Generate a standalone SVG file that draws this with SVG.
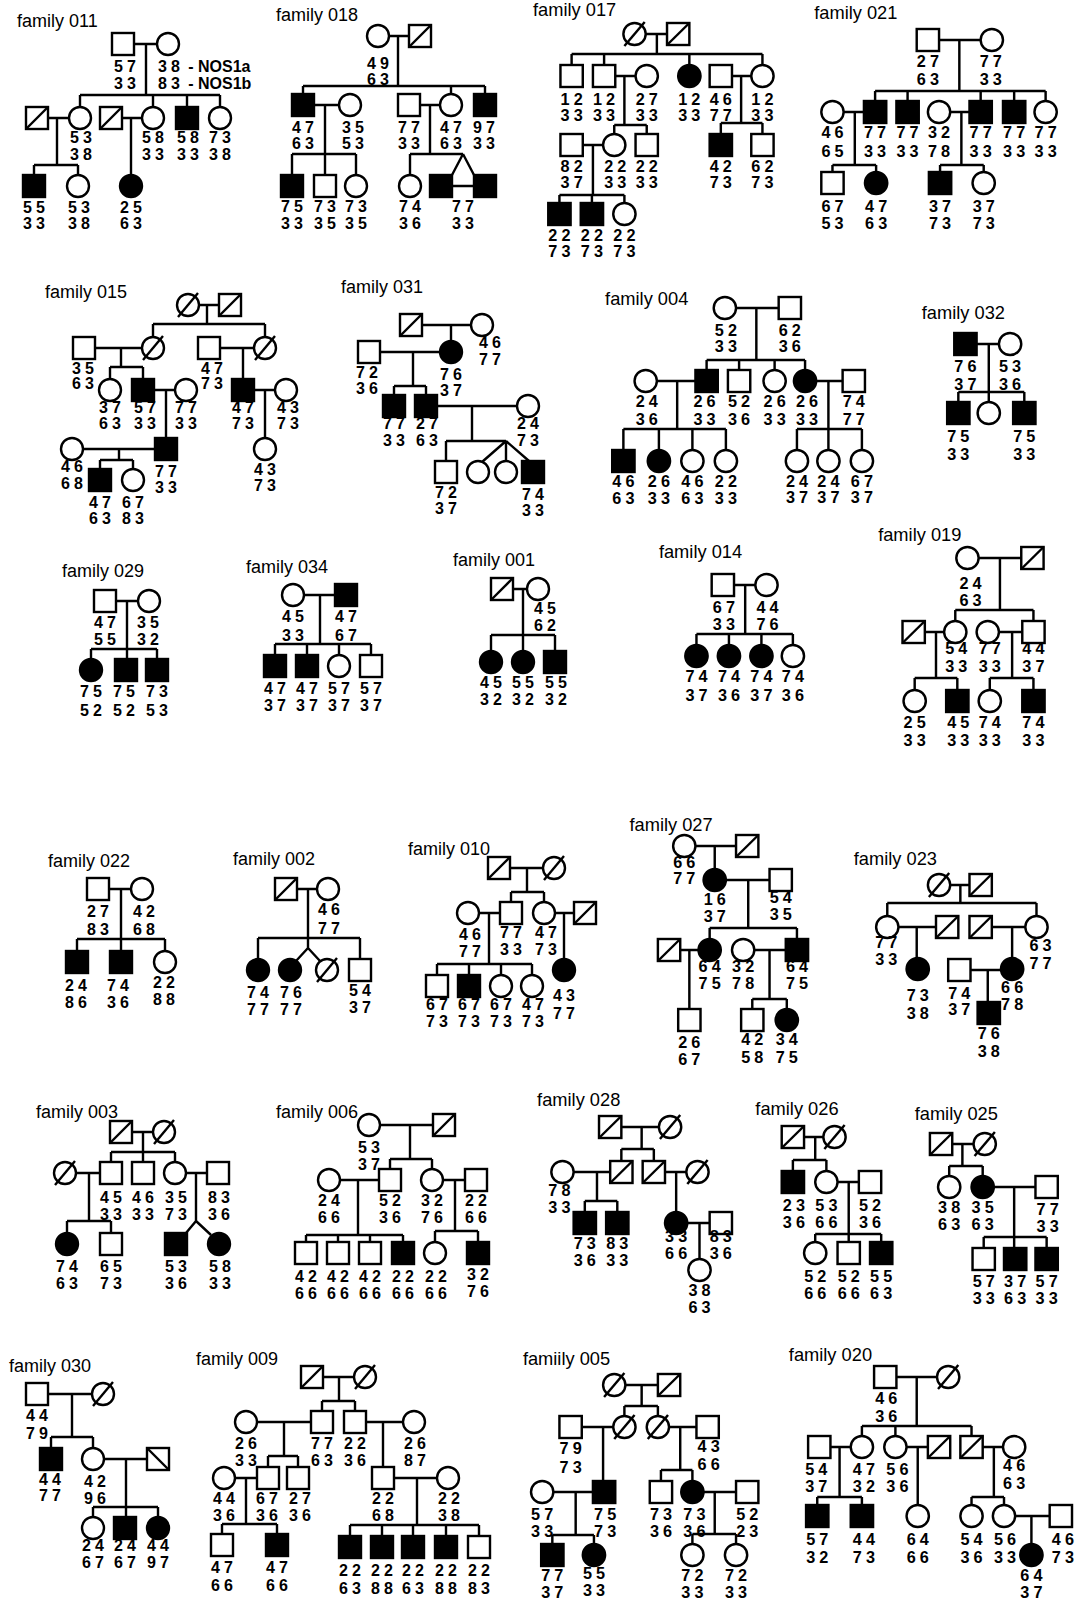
<svg xmlns="http://www.w3.org/2000/svg" width="1078" height="1604" viewBox="0 0 1078 1604">
<style>
.o{fill:#fff;stroke:#000;stroke-width:2.4}
.k{fill:#000;stroke:#000;stroke-width:2.4}
.s{fill:none;stroke:#000;stroke-width:2.4}
#connectors path{fill:none;stroke:#000;stroke-width:2.4}
.g{font-family:"Liberation Sans",Arial,Helvetica,sans-serif;font-weight:700;font-size:16px;letter-spacing:4px;text-anchor:middle;transform:translateX(2px)}
.n{font-family:"Liberation Sans",Arial,Helvetica,sans-serif;font-weight:700;font-size:16px;letter-spacing:4px}
.t{font-family:"Liberation Sans",Arial,Helvetica,sans-serif;font-size:18px}
</style>
<defs>
<rect id="m" x="-11" y="-11" width="22" height="22" class="o"/>
<rect id="M" x="-11" y="-11" width="22" height="22" class="k"/>
<circle id="f" r="11" class="o"/>
<circle id="F" r="11" class="k"/>
<g id="md"><rect x="-11" y="-11" width="22" height="22" class="o"/><path d="M-11 11L11-11" class="s"/></g>
<g id="md2"><rect x="-11" y="-11" width="22" height="22" class="o"/><path d="M-11-11L11 11" class="s"/></g>
<g id="fd"><circle r="11" class="o"/><path d="M-10 12L10-12" class="s"/></g>
</defs>
<rect width="1078" height="1604" fill="#fff"/>
<g id="connectors">
<path d="M134 44H157M146 44V95M80 95H220M80 95V107M153 95V107M187 95V107M220 95V107M48 118H69M57 118V165M34 165H78M34 165V175M78 165V175M122 118H142M131 118V175"/>
<path d="M389 36H409M398 36V86M303 86H485M303 86V94M451 86V94M485 86V94M314 105H339M325 105V154M292 154H356M292 154V175M325 154V175M356 154V175M420 105H440M430 105V154M410 154H463M410 154V175M463 154L452 175M463 154L474 175M452 186H474"/>
<path d="M199 305H219M207 305V324M153 324H265M153 324V337M265 324V337M95 348H142M121 348V367M110 367H143M110 367V379M143 367V379M220 348H254M243 348V379M154 390H175M166 390V438M254 390H275M265 390V438M83 449H155M119 449V460M100 460H133M100 460V469M133 460V469"/>
<path d="M422 325H471M451 325V341M380 352H440M413 352V386M394 386H426M394 386V395M426 386V395M437 406H517M472 406V441M446 441H506M446 441V461M506 441V461M506 441L482 462M506 441L529 461"/>
<path d="M116 601H138M127 601V659M91 649H157M91 649V659M157 649V659"/>
<path d="M304 595H335M320 595V644M275 644H371M275 644V655M307 644V655M339 644V655M371 644V655"/>
<path d="M513 589H527M523 589V651M491 635H555M491 635V651M555 635V651"/>
<path d="M109 889H131M121 889V951M77 939H165M77 939V951M165 939V951"/>
<path d="M297 889H317M308 889V948M258 938H360M258 938V959M360 938V959M308 948L296 961M308 948L320 961"/>
<path d="M510 868H543M527 868V892M511 892H544M511 892V902M544 892V902M479 913H500M489 913V964M437 964H532M437 964V975M469 964V975M501 964V975M532 964V975M555 913H574M564 913V959"/>
<path d="M132 1132H153M143 1132V1152M111 1152H175M111 1152V1162M143 1152V1162M175 1152V1162M76 1173H100M89 1173V1221M67 1221H111M67 1221V1233M111 1221V1233M186 1173H207M196 1173V1221L186 1233M196 1221L211 1235"/>
<path d="M380 1125H433M410 1125V1159M390 1159H432M390 1159V1169M432 1159V1169M340 1180H379M358 1180V1235M306 1235H403M306 1235V1242M338 1235V1242M370 1235V1242M403 1235V1242M443 1180H465M455 1180V1231M435 1231H478M435 1231V1242M478 1231V1242"/>
<path d="M48 1394H92M72 1394V1437M51 1437H93M51 1437V1448M93 1437V1448M104 1459H147M126 1459V1517M93 1507H158M93 1507V1517M158 1507V1517"/>
<path d="M323 1377H354M339 1377V1401M322 1401H355M322 1401V1411M355 1401V1411M257 1422H311M284 1422V1456M268 1456H298M268 1456V1467M298 1456V1467M366 1422H403M383 1422V1467M235 1478H257M246 1478V1524M222 1524H277M222 1524V1534M277 1524V1534M394 1478H437M417 1478V1525M350 1525H479M350 1525V1536M382 1525V1536M413 1525V1536M446 1525V1536M479 1525V1536"/>
<g transform="matrix(1.015 0 0 1 -7.95 0)">
<path d="M644 34H665M655 34V54M571 54H759M571 54V65M603 54V65M687 54V65M759 54V65M614 76H634M623 76V125M613 125H645M613 125V134M645 125V134M729 76H748M738 76V123M718 123H759M718 123V134M759 123V134M582 145H602M592 145V195M559 195H623M559 195V203M591 195V203M623 195V203"/>
<path d="M933 40H974M953 40V91M870 91H1038M870 91V101M902 91V101M974 91V101M1007 91V101M1038 91V101M839 112H859M850 112V165M828 165H871M828 165V172M871 165V172M944 112H963M955 112V165M934 165H977M934 165V172M977 165V172"/>
<path d="M733 308H775M753 308V360M704 360H801M704 360V370M736 360V370M771 360V370M801 360V370M655 381H693M675 381V429M622 429H723M622 429V450M657 429V450M690 429V450M723 429V450M812 381H838M824 381V450M793 429H857M793 429V450M857 429V450"/>
<path d="M970 344H992M982 344V402M952 392H1017M952 392V402M1017 392V402"/>
<path d="M731 585H752M742 585V634M694 634H789M694 634V645M726 634V645M758 634V645M789 634V645"/>
<path d="M972 558H1014M993 558V610M949 610H1026M949 610V621M1026 610V621M919 632H938M930 632V678M909 678H951M909 678V690M951 678V690M992 632H1015M1005 632V678M983 678H1026M983 678V690M1026 678V690"/>
<path d="M693 846H733M712 846V869M723 880H766M745 880V928M707 928H793M707 928V939M793 928V939M678 950H696M687 950V1009M751 950H782M766 950V999M749 999H783M749 999V1009M783 999V1009"/>
<path d="M944 885H963M954 885V903M882 903H1029M882 903V916M1029 903V916M893 927H930M911 927V958M985 927H1018M1005 927V958M964 970H994M981 970V1002"/>
<path d="M620 1127H657M640 1127V1149M620 1149H652M620 1149V1161M652 1149V1161M573 1172H609M596 1172V1201M584 1201H616M584 1201V1212M616 1201V1212M663 1172H684M674 1172V1212M685 1223H707M697 1223V1259"/>
<path d="M800 1137H819M811 1137V1160M789 1160H822M789 1160V1171M822 1160V1171M833 1182H854M844 1182V1242M811 1234H876M811 1234V1242M876 1234V1242"/>
<path d="M946 1144H967M956 1144V1166M943 1166H976M943 1166V1176M976 1166V1176M987 1187H1028M1007 1187V1248M977 1237H1039M977 1237V1248M1039 1237V1248"/>
<path d="M624 1385H656M640 1385V1406M623 1406H656M623 1406V1416M656 1406V1416M581 1427H612M602 1427V1481M667 1427H694M678 1427V1470M659 1470H690M659 1470V1481M690 1470V1481M553 1492H592M575 1492V1535M552 1535H593M552 1535V1544M593 1535V1544M701 1492H733M712 1492V1534M690 1534H733M690 1534V1544M733 1534V1544"/>
<path d="M891 1377H931M911 1377V1426M857 1426H965M857 1426V1436M890 1426V1436M965 1426V1436M826 1447H846M835 1447V1497M813 1497H857M813 1497V1505M857 1497V1505M901 1447H922M912 1447V1505M976 1447H996M987 1447V1497M965 1497H997M965 1497V1505M997 1497V1505M1008 1516H1042M1024 1516V1544"/>
</g>
</g>

<g id="family-011">
<text class="t" x="17" y="27">family 011</text>
<g id="p011-1"><use href="#m" x="123" y="44"/><text class="g" x="125" y="72">57<tspan x="125" y="89">33</tspan></text></g>
<g id="p011-2"><use href="#f" x="168" y="44"/><text class="n" x="158" y="72">38<tspan letter-spacing="0"> - NOS1a</tspan></text><text class="n" x="158" y="89">83<tspan letter-spacing="0"> - NOS1b</tspan></text></g>
<g id="p011-3"><use href="#md" x="37" y="118"/></g>
<g id="p011-4"><use href="#f" x="80" y="118"/><text class="g" x="81" y="143">53<tspan x="81" y="160">38</tspan></text></g>
<g id="p011-5"><use href="#md" x="111" y="118"/></g>
<g id="p011-6"><use href="#f" x="153" y="118"/><text class="g" x="153" y="143">58<tspan x="153" y="160">33</tspan></text></g>
<g id="p011-7"><use href="#M" x="187" y="118"/><text class="g" x="188" y="143">58<tspan x="188" y="160">33</tspan></text></g>
<g id="p011-8"><use href="#f" x="220" y="118"/><text class="g" x="220" y="143">73<tspan x="220" y="160">38</tspan></text></g>
<g id="p011-9"><use href="#M" x="34" y="186"/><text class="g" x="34" y="213">55<tspan x="34" y="229">33</tspan></text></g>
<g id="p011-10"><use href="#f" x="78" y="186"/><text class="g" x="79" y="213">53<tspan x="79" y="229">38</tspan></text></g>
<g id="p011-11"><use href="#F" x="131" y="186"/><text class="g" x="131" y="213">25<tspan x="131" y="229">63</tspan></text></g>
</g>

<g id="family-018">
<text class="t" x="276" y="21">family 018</text>
<g id="p018-1"><use href="#f" x="378" y="36"/><text class="g" x="378" y="69">49<tspan x="378" y="85">63</tspan></text></g>
<g id="p018-2"><use href="#md" x="420" y="36"/></g>
<g id="p018-3"><use href="#M" x="303" y="105"/><text class="g" x="303" y="133">47<tspan x="303" y="149">63</tspan></text></g>
<g id="p018-4"><use href="#f" x="350" y="105"/><text class="g" x="353" y="133">35<tspan x="353" y="149">53</tspan></text></g>
<g id="p018-5"><use href="#m" x="409" y="105"/><text class="g" x="409" y="133">77<tspan x="409" y="149">33</tspan></text></g>
<g id="p018-6"><use href="#f" x="451" y="105"/><text class="g" x="451" y="133">47<tspan x="451" y="149">63</tspan></text></g>
<g id="p018-7"><use href="#M" x="485" y="105"/><text class="g" x="484" y="133">97<tspan x="484" y="149">33</tspan></text></g>
<g id="p018-8"><use href="#M" x="292" y="186"/><text class="g" x="292" y="212">75<tspan x="292" y="229">33</tspan></text></g>
<g id="p018-9"><use href="#m" x="325" y="186"/><text class="g" x="325" y="212">73<tspan x="325" y="229">35</tspan></text></g>
<g id="p018-10"><use href="#f" x="356" y="186"/><text class="g" x="356" y="212">73<tspan x="356" y="229">35</tspan></text></g>
<g id="p018-11"><use href="#f" x="410" y="186"/><text class="g" x="410" y="212">74<tspan x="410" y="229">36</tspan></text></g>
<g id="p018-12"><use href="#M" x="441" y="186"/></g>
<g id="p018-13"><use href="#M" x="485" y="186"/><text class="g" x="463" y="212">77<tspan x="463" y="229">33</tspan></text></g>
</g>

<g id="family-015">
<text class="t" x="45" y="298">family 015</text>
<g id="p015-1"><use href="#fd" x="188" y="305"/></g>
<g id="p015-2"><use href="#md" x="230" y="305"/></g>
<g id="p015-3"><use href="#m" x="84" y="348"/><text class="g" x="83" y="374">35<tspan x="83" y="389">63</tspan></text></g>
<g id="p015-4"><use href="#fd" x="153" y="348"/></g>
<g id="p015-5"><use href="#m" x="209" y="348"/><text class="g" x="212" y="374">47<tspan x="212" y="389">73</tspan></text></g>
<g id="p015-6"><use href="#fd" x="265" y="348"/></g>
<g id="p015-7"><use href="#f" x="110" y="390"/><text class="g" x="110" y="413">37<tspan x="110" y="429">63</tspan></text></g>
<g id="p015-8"><use href="#M" x="143" y="390"/><text class="g" x="145" y="413">57<tspan x="145" y="429">33</tspan></text></g>
<g id="p015-9"><use href="#f" x="186" y="390"/><text class="g" x="186" y="413">77<tspan x="186" y="429">33</tspan></text></g>
<g id="p015-10"><use href="#M" x="243" y="390"/><text class="g" x="243" y="413">47<tspan x="243" y="429">73</tspan></text></g>
<g id="p015-11"><use href="#f" x="286" y="390"/><text class="g" x="288" y="413">43<tspan x="288" y="429">73</tspan></text></g>
<g id="p015-12"><use href="#f" x="72" y="449"/><text class="g" x="72" y="472">46<tspan x="72" y="489">68</tspan></text></g>
<g id="p015-13"><use href="#M" x="166" y="449"/><text class="g" x="166" y="477">77<tspan x="166" y="493">33</tspan></text></g>
<g id="p015-14"><use href="#f" x="265" y="449"/><text class="g" x="265" y="475">43<tspan x="265" y="491">73</tspan></text></g>
<g id="p015-15"><use href="#M" x="100" y="480"/><text class="g" x="100" y="508">47<tspan x="100" y="524">63</tspan></text></g>
<g id="p015-16"><use href="#f" x="133" y="480"/><text class="g" x="133" y="508">67<tspan x="133" y="524">83</tspan></text></g>
</g>

<g id="family-031">
<text class="t" x="341" y="293">family 031</text>
<g id="p031-1"><use href="#md" x="411" y="325"/></g>
<g id="p031-2"><use href="#f" x="482" y="325"/><text class="g" x="490" y="348">46<tspan x="490" y="365">77</tspan></text></g>
<g id="p031-3"><use href="#F" x="451" y="352"/><text class="g" x="451" y="380">76<tspan x="451" y="396">37</tspan></text></g>
<g id="p031-4"><use href="#m" x="369" y="352"/><text class="g" x="367" y="378">72<tspan x="367" y="394">36</tspan></text></g>
<g id="p031-5"><use href="#M" x="394" y="406"/><text class="g" x="394" y="429">77<tspan x="394" y="446">33</tspan></text></g>
<g id="p031-6"><use href="#M" x="426" y="406"/><text class="g" x="427" y="429">27<tspan x="427" y="446">63</tspan></text></g>
<g id="p031-7"><use href="#f" x="528" y="406"/><text class="g" x="528" y="429">24<tspan x="528" y="446">73</tspan></text></g>
<g id="p031-8"><use href="#m" x="446" y="472"/><text class="g" x="446" y="498">72<tspan x="446" y="514">37</tspan></text></g>
<g id="p031-9"><use href="#f" x="478" y="472"/></g>
<g id="p031-10"><use href="#f" x="506" y="472"/></g>
<g id="p031-11"><use href="#M" x="533" y="472"/><text class="g" x="533" y="500">74<tspan x="533" y="516">33</tspan></text></g>
</g>

<g id="family-029">
<text class="t" x="62" y="577">family 029</text>
<g id="p029-1"><use href="#m" x="105" y="601"/><text class="g" x="105" y="628">47<tspan x="105" y="645">55</tspan></text></g>
<g id="p029-2"><use href="#f" x="149" y="601"/><text class="g" x="148" y="628">35<tspan x="148" y="645">32</tspan></text></g>
<g id="p029-3"><use href="#F" x="91" y="670"/><text class="g" x="91" y="697">75<tspan x="91" y="716">52</tspan></text></g>
<g id="p029-4"><use href="#M" x="126" y="670"/><text class="g" x="124" y="697">75<tspan x="124" y="716">52</tspan></text></g>
<g id="p029-5"><use href="#M" x="157" y="670"/><text class="g" x="157" y="697">73<tspan x="157" y="716">53</tspan></text></g>
</g>

<g id="family-034">
<text class="t" x="246" y="573">family 034</text>
<g id="p034-1"><use href="#f" x="293" y="595"/><text class="g" x="293" y="622">45<tspan x="293" y="641">33</tspan></text></g>
<g id="p034-2"><use href="#M" x="346" y="595"/><text class="g" x="346" y="622">47<tspan x="346" y="641">67</tspan></text></g>
<g id="p034-3"><use href="#M" x="275" y="666"/><text class="g" x="275" y="694">47<tspan x="275" y="711">37</tspan></text></g>
<g id="p034-4"><use href="#M" x="307" y="666"/><text class="g" x="307" y="694">47<tspan x="307" y="711">37</tspan></text></g>
<g id="p034-5"><use href="#f" x="339" y="666"/><text class="g" x="339" y="694">57<tspan x="339" y="711">37</tspan></text></g>
<g id="p034-6"><use href="#m" x="371" y="666"/><text class="g" x="371" y="694">57<tspan x="371" y="711">37</tspan></text></g>
</g>

<g id="family-001">
<text class="t" x="453" y="566">family 001</text>
<g id="p001-1"><use href="#md" x="502" y="589"/></g>
<g id="p001-2"><use href="#f" x="538" y="589"/><text class="g" x="545" y="614">45<tspan x="545" y="631">62</tspan></text></g>
<g id="p001-3"><use href="#F" x="491" y="662"/><text class="g" x="491" y="688">45<tspan x="491" y="705">32</tspan></text></g>
<g id="p001-4"><use href="#F" x="523" y="662"/><text class="g" x="523" y="688">55<tspan x="523" y="705">32</tspan></text></g>
<g id="p001-5"><use href="#M" x="555" y="662"/><text class="g" x="556" y="688">55<tspan x="556" y="705">32</tspan></text></g>
</g>

<g id="family-022">
<text class="t" x="48" y="867">family 022</text>
<g id="p022-1"><use href="#m" x="98" y="889"/><text class="g" x="98" y="917">27<tspan x="98" y="935">83</tspan></text></g>
<g id="p022-2"><use href="#f" x="142" y="889"/><text class="g" x="144" y="917">42<tspan x="144" y="935">68</tspan></text></g>
<g id="p022-3"><use href="#M" x="77" y="962"/><text class="g" x="76" y="991">24<tspan x="76" y="1008">86</tspan></text></g>
<g id="p022-4"><use href="#M" x="121" y="962"/><text class="g" x="118" y="991">74<tspan x="118" y="1008">36</tspan></text></g>
<g id="p022-5"><use href="#f" x="165" y="962"/><text class="g" x="164" y="988">22<tspan x="164" y="1005">88</tspan></text></g>
</g>

<g id="family-002">
<text class="t" x="233" y="865">family 002</text>
<g id="p002-1"><use href="#md" x="286" y="889"/></g>
<g id="p002-2"><use href="#f" x="328" y="889"/><text class="g" x="329" y="915">46<tspan x="329" y="934">77</tspan></text></g>
<g id="p002-3"><use href="#F" x="258" y="970"/><text class="g" x="258" y="998">74<tspan x="258" y="1015">77</tspan></text></g>
<g id="p002-4"><use href="#F" x="290" y="970"/><text class="g" x="291" y="998">76<tspan x="291" y="1015">77</tspan></text></g>
<g id="p002-5"><use href="#fd" x="327" y="970"/></g>
<g id="p002-6"><use href="#m" x="360" y="970"/><text class="g" x="360" y="996">54<tspan x="360" y="1013">37</tspan></text></g>
</g>

<g id="family-010">
<text class="t" x="408" y="855">family 010</text>
<g id="p010-1"><use href="#md" x="499" y="868"/></g>
<g id="p010-2"><use href="#fd" x="554" y="868"/></g>
<g id="p010-3"><use href="#f" x="468" y="913"/><text class="g" x="470" y="940">46<tspan x="470" y="957">77</tspan></text></g>
<g id="p010-4"><use href="#m" x="511" y="913"/><text class="g" x="511" y="938">77<tspan x="511" y="955">33</tspan></text></g>
<g id="p010-5"><use href="#f" x="544" y="913"/><text class="g" x="546" y="938">47<tspan x="546" y="955">73</tspan></text></g>
<g id="p010-6"><use href="#md" x="585" y="913"/></g>
<g id="p010-7"><use href="#m" x="437" y="986"/><text class="g" x="437" y="1010">67<tspan x="437" y="1027">73</tspan></text></g>
<g id="p010-8"><use href="#M" x="469" y="986"/><text class="g" x="469" y="1010">67<tspan x="469" y="1027">73</tspan></text></g>
<g id="p010-9"><use href="#f" x="501" y="986"/><text class="g" x="501" y="1010">67<tspan x="501" y="1027">73</tspan></text></g>
<g id="p010-10"><use href="#f" x="532" y="986"/><text class="g" x="533" y="1010">47<tspan x="533" y="1027">73</tspan></text></g>
<g id="p010-11"><use href="#F" x="564" y="970"/><text class="g" x="564" y="1001">43<tspan x="564" y="1019">77</tspan></text></g>
</g>

<g id="family-003">
<text class="t" x="36" y="1118">family 003</text>
<g id="p003-1"><use href="#md" x="121" y="1132"/></g>
<g id="p003-2"><use href="#fd" x="164" y="1132"/></g>
<g id="p003-3"><use href="#fd" x="65" y="1173"/></g>
<g id="p003-4"><use href="#m" x="111" y="1173"/><text class="g" x="111" y="1203">45<tspan x="111" y="1220">33</tspan></text></g>
<g id="p003-5"><use href="#m" x="143" y="1173"/><text class="g" x="143" y="1203">46<tspan x="143" y="1220">33</tspan></text></g>
<g id="p003-6"><use href="#f" x="175" y="1173"/><text class="g" x="176" y="1203">35<tspan x="176" y="1220">73</tspan></text></g>
<g id="p003-7"><use href="#m" x="218" y="1173"/><text class="g" x="219" y="1203">83<tspan x="219" y="1220">36</tspan></text></g>
<g id="p003-8"><use href="#F" x="67" y="1244"/><text class="g" x="67" y="1272">74<tspan x="67" y="1289">63</tspan></text></g>
<g id="p003-9"><use href="#m" x="111" y="1244"/><text class="g" x="111" y="1272">65<tspan x="111" y="1289">73</tspan></text></g>
<g id="p003-10"><use href="#M" x="176" y="1244"/><text class="g" x="176" y="1272">53<tspan x="176" y="1289">36</tspan></text></g>
<g id="p003-11"><use href="#F" x="219" y="1244"/><text class="g" x="220" y="1272">58<tspan x="220" y="1289">33</tspan></text></g>
</g>

<g id="family-006">
<text class="t" x="276" y="1118">family 006</text>
<g id="p006-1"><use href="#f" x="369" y="1125"/><text class="g" x="369" y="1153">53<tspan x="369" y="1170">37</tspan></text></g>
<g id="p006-2"><use href="#md" x="444" y="1125"/></g>
<g id="p006-3"><use href="#f" x="329" y="1180"/><text class="g" x="329" y="1206">24<tspan x="329" y="1223">66</tspan></text></g>
<g id="p006-4"><use href="#m" x="390" y="1180"/><text class="g" x="390" y="1206">52<tspan x="390" y="1223">36</tspan></text></g>
<g id="p006-5"><use href="#f" x="432" y="1180"/><text class="g" x="432" y="1206">32<tspan x="432" y="1223">76</tspan></text></g>
<g id="p006-6"><use href="#m" x="476" y="1180"/><text class="g" x="476" y="1206">22<tspan x="476" y="1223">66</tspan></text></g>
<g id="p006-7"><use href="#m" x="306" y="1253"/><text class="g" x="306" y="1282">42<tspan x="306" y="1299">66</tspan></text></g>
<g id="p006-8"><use href="#m" x="338" y="1253"/><text class="g" x="338" y="1282">42<tspan x="338" y="1299">66</tspan></text></g>
<g id="p006-9"><use href="#m" x="370" y="1253"/><text class="g" x="370" y="1282">42<tspan x="370" y="1299">66</tspan></text></g>
<g id="p006-10"><use href="#M" x="403" y="1253"/><text class="g" x="403" y="1282">22<tspan x="403" y="1299">66</tspan></text></g>
<g id="p006-11"><use href="#f" x="435" y="1253"/><text class="g" x="436" y="1282">22<tspan x="436" y="1299">66</tspan></text></g>
<g id="p006-12"><use href="#M" x="478" y="1253"/><text class="g" x="478" y="1280">32<tspan x="478" y="1297">76</tspan></text></g>
</g>

<g id="family-030">
<text class="t" x="9" y="1372">family 030</text>
<g id="p030-1"><use href="#m" x="37" y="1394"/><text class="g" x="37" y="1421">44<tspan x="37" y="1439">79</tspan></text></g>
<g id="p030-2"><use href="#fd" x="103" y="1394"/></g>
<g id="p030-3"><use href="#M" x="51" y="1459"/><text class="g" x="50" y="1485">44<tspan x="50" y="1501">77</tspan></text></g>
<g id="p030-4"><use href="#f" x="93" y="1459"/><text class="g" x="95" y="1487">42<tspan x="95" y="1504">96</tspan></text></g>
<g id="p030-5"><use href="#md2" x="158" y="1459"/></g>
<g id="p030-6"><use href="#f" x="93" y="1528"/><text class="g" x="93" y="1551">24<tspan x="93" y="1568">67</tspan></text></g>
<g id="p030-7"><use href="#M" x="125" y="1528"/><text class="g" x="125" y="1551">24<tspan x="125" y="1568">67</tspan></text></g>
<g id="p030-8"><use href="#F" x="158" y="1528"/><text class="g" x="158" y="1551">44<tspan x="158" y="1568">97</tspan></text></g>
</g>

<g id="family-009">
<text class="t" x="196" y="1365">family 009</text>
<g id="p009-1"><use href="#md" x="312" y="1377"/></g>
<g id="p009-2"><use href="#fd" x="365" y="1377"/></g>
<g id="p009-3"><use href="#f" x="246" y="1422"/><text class="g" x="246" y="1449">26<tspan x="246" y="1466">33</tspan></text></g>
<g id="p009-4"><use href="#m" x="322" y="1422"/><text class="g" x="322" y="1449">77<tspan x="322" y="1466">63</tspan></text></g>
<g id="p009-5"><use href="#m" x="355" y="1422"/><text class="g" x="355" y="1449">22<tspan x="355" y="1466">36</tspan></text></g>
<g id="p009-6"><use href="#f" x="414" y="1422"/><text class="g" x="415" y="1449">26<tspan x="415" y="1466">87</tspan></text></g>
<g id="p009-7"><use href="#f" x="224" y="1478"/><text class="g" x="224" y="1504">44<tspan x="224" y="1521">36</tspan></text></g>
<g id="p009-8"><use href="#m" x="268" y="1478"/><text class="g" x="267" y="1504">67<tspan x="267" y="1521">36</tspan></text></g>
<g id="p009-9"><use href="#m" x="298" y="1478"/><text class="g" x="300" y="1504">27<tspan x="300" y="1521">36</tspan></text></g>
<g id="p009-10"><use href="#m" x="383" y="1478"/><text class="g" x="383" y="1504">22<tspan x="383" y="1521">68</tspan></text></g>
<g id="p009-11"><use href="#f" x="448" y="1478"/><text class="g" x="449" y="1504">22<tspan x="449" y="1521">38</tspan></text></g>
<g id="p009-12"><use href="#m" x="222" y="1545"/><text class="g" x="222" y="1573">47<tspan x="222" y="1591">66</tspan></text></g>
<g id="p009-13"><use href="#M" x="277" y="1545"/><text class="g" x="277" y="1573">47<tspan x="277" y="1591">66</tspan></text></g>
<g id="p009-14"><use href="#M" x="350" y="1547"/><text class="g" x="350" y="1576">22<tspan x="350" y="1594">63</tspan></text></g>
<g id="p009-15"><use href="#M" x="382" y="1547"/><text class="g" x="382" y="1576">22<tspan x="382" y="1594">88</tspan></text></g>
<g id="p009-16"><use href="#M" x="413" y="1547"/><text class="g" x="413" y="1576">22<tspan x="413" y="1594">63</tspan></text></g>
<g id="p009-17"><use href="#M" x="446" y="1547"/><text class="g" x="446" y="1576">22<tspan x="446" y="1594">88</tspan></text></g>
<g id="p009-18"><use href="#m" x="479" y="1547"/><text class="g" x="479" y="1576">22<tspan x="479" y="1594">83</tspan></text></g>
</g>

<g transform="matrix(1.015 0 0 1 -7.95 0)">
<g id="family-017">
<text class="t" x="533" y="16">family 017</text>
<g id="p017-1"><use href="#fd" x="633" y="34"/></g>
<g id="p017-2"><use href="#md" x="676" y="34"/></g>
<g id="p017-3"><use href="#m" x="571" y="76"/><text class="g" x="571" y="105">12<tspan x="571" y="121">33</tspan></text></g>
<g id="p017-4"><use href="#m" x="603" y="76"/><text class="g" x="603" y="105">12<tspan x="603" y="121">33</tspan></text></g>
<g id="p017-5"><use href="#f" x="645" y="76"/><text class="g" x="645" y="105">27<tspan x="645" y="121">33</tspan></text></g>
<g id="p017-6"><use href="#F" x="687" y="76"/><text class="g" x="687" y="105">12<tspan x="687" y="121">33</tspan></text></g>
<g id="p017-7"><use href="#m" x="718" y="76"/><text class="g" x="718" y="105">46<tspan x="718" y="121">77</tspan></text></g>
<g id="p017-8"><use href="#f" x="759" y="76"/><text class="g" x="759" y="105">12<tspan x="759" y="121">33</tspan></text></g>
<g id="p017-9"><use href="#m" x="571" y="145"/><text class="g" x="571" y="172">82<tspan x="571" y="188">37</tspan></text></g>
<g id="p017-10"><use href="#f" x="613" y="145"/><text class="g" x="614" y="172">22<tspan x="614" y="188">33</tspan></text></g>
<g id="p017-11"><use href="#m" x="645" y="145"/><text class="g" x="645" y="172">22<tspan x="645" y="188">33</tspan></text></g>
<g id="p017-12"><use href="#M" x="718" y="145"/><text class="g" x="718" y="172">42<tspan x="718" y="188">73</tspan></text></g>
<g id="p017-13"><use href="#m" x="759" y="145"/><text class="g" x="759" y="172">62<tspan x="759" y="188">73</tspan></text></g>
<g id="p017-14"><use href="#M" x="559" y="214"/><text class="g" x="559" y="241">22<tspan x="559" y="257">73</tspan></text></g>
<g id="p017-15"><use href="#M" x="591" y="214"/><text class="g" x="591" y="241">22<tspan x="591" y="257">73</tspan></text></g>
<g id="p017-16"><use href="#f" x="623" y="214"/><text class="g" x="623" y="241">22<tspan x="623" y="257">73</tspan></text></g>
</g>

<g id="family-021">
<text class="t" x="810" y="19">family 021</text>
<g id="p021-1"><use href="#m" x="922" y="40"/><text class="g" x="922" y="67">27<tspan x="922" y="85">63</tspan></text></g>
<g id="p021-2"><use href="#f" x="985" y="40"/><text class="g" x="984" y="67">77<tspan x="984" y="85">33</tspan></text></g>
<g id="p021-3"><use href="#f" x="828" y="112"/><text class="g" x="828" y="138">46<tspan x="828" y="157">65</tspan></text></g>
<g id="p021-4"><use href="#M" x="870" y="112"/><text class="g" x="870" y="138">77<tspan x="870" y="157">33</tspan></text></g>
<g id="p021-5"><use href="#M" x="902" y="112"/><text class="g" x="902" y="138">77<tspan x="902" y="157">33</tspan></text></g>
<g id="p021-6"><use href="#f" x="933" y="112"/><text class="g" x="933" y="138">32<tspan x="933" y="157">78</tspan></text></g>
<g id="p021-7"><use href="#M" x="974" y="112"/><text class="g" x="974" y="138">77<tspan x="974" y="157">33</tspan></text></g>
<g id="p021-8"><use href="#M" x="1007" y="112"/><text class="g" x="1007" y="138">77<tspan x="1007" y="157">33</tspan></text></g>
<g id="p021-9"><use href="#f" x="1038" y="112"/><text class="g" x="1038" y="138">77<tspan x="1038" y="157">33</tspan></text></g>
<g id="p021-10"><use href="#m" x="828" y="183"/><text class="g" x="828" y="212">67<tspan x="828" y="229">53</tspan></text></g>
<g id="p021-11"><use href="#F" x="871" y="183"/><text class="g" x="871" y="212">47<tspan x="871" y="229">63</tspan></text></g>
<g id="p021-12"><use href="#M" x="934" y="183"/><text class="g" x="934" y="212">37<tspan x="934" y="229">73</tspan></text></g>
<g id="p021-13"><use href="#f" x="977" y="183"/><text class="g" x="977" y="212">37<tspan x="977" y="229">73</tspan></text></g>
</g>

<g id="family-004">
<text class="t" x="604" y="305">family 004</text>
<g id="p004-1"><use href="#f" x="722" y="308"/><text class="g" x="723" y="336">52<tspan x="723" y="352">33</tspan></text></g>
<g id="p004-2"><use href="#m" x="786" y="308"/><text class="g" x="786" y="336">62<tspan x="786" y="352">36</tspan></text></g>
<g id="p004-3"><use href="#f" x="644" y="381"/><text class="g" x="645" y="407">24<tspan x="645" y="425">36</tspan></text></g>
<g id="p004-4"><use href="#M" x="704" y="381"/><text class="g" x="702" y="407">26<tspan x="702" y="425">33</tspan></text></g>
<g id="p004-5"><use href="#m" x="736" y="381"/><text class="g" x="736" y="407">52<tspan x="736" y="425">36</tspan></text></g>
<g id="p004-6"><use href="#f" x="771" y="381"/><text class="g" x="771" y="407">26<tspan x="771" y="425">33</tspan></text></g>
<g id="p004-7"><use href="#F" x="801" y="381"/><text class="g" x="803" y="407">26<tspan x="803" y="425">33</tspan></text></g>
<g id="p004-8"><use href="#m" x="849" y="381"/><text class="g" x="849" y="407">74<tspan x="849" y="425">77</tspan></text></g>
<g id="p004-9"><use href="#M" x="622" y="461"/><text class="g" x="622" y="487">46<tspan x="622" y="504">63</tspan></text></g>
<g id="p004-10"><use href="#F" x="657" y="461"/><text class="g" x="657" y="487">26<tspan x="657" y="504">33</tspan></text></g>
<g id="p004-11"><use href="#f" x="690" y="461"/><text class="g" x="690" y="487">46<tspan x="690" y="504">63</tspan></text></g>
<g id="p004-12"><use href="#f" x="723" y="461"/><text class="g" x="723" y="487">22<tspan x="723" y="504">33</tspan></text></g>
<g id="p004-13"><use href="#f" x="793" y="461"/><text class="g" x="793" y="487">24<tspan x="793" y="503">37</tspan></text></g>
<g id="p004-14"><use href="#f" x="824" y="461"/><text class="g" x="824" y="487">24<tspan x="824" y="503">37</tspan></text></g>
<g id="p004-15"><use href="#f" x="857" y="461"/><text class="g" x="857" y="487">67<tspan x="857" y="503">37</tspan></text></g>
</g>

<g id="family-032">
<text class="t" x="916" y="319">family 032</text>
<g id="p032-1"><use href="#M" x="959" y="344"/><text class="g" x="959" y="372">76<tspan x="959" y="390">37</tspan></text></g>
<g id="p032-2"><use href="#f" x="1003" y="344"/><text class="g" x="1003" y="372">53<tspan x="1003" y="390">36</tspan></text></g>
<g id="p032-3"><use href="#M" x="952" y="413"/><text class="g" x="952" y="442">75<tspan x="952" y="460">33</tspan></text></g>
<g id="p032-4"><use href="#f" x="982" y="413"/></g>
<g id="p032-5"><use href="#M" x="1017" y="413"/><text class="g" x="1017" y="442">75<tspan x="1017" y="460">33</tspan></text></g>
</g>

<g id="family-014">
<text class="t" x="657" y="558">family 014</text>
<g id="p014-1"><use href="#m" x="720" y="585"/><text class="g" x="721" y="613">67<tspan x="721" y="630">33</tspan></text></g>
<g id="p014-2"><use href="#f" x="763" y="585"/><text class="g" x="764" y="613">44<tspan x="764" y="630">76</tspan></text></g>
<g id="p014-3"><use href="#F" x="694" y="656"/><text class="g" x="694" y="682">74<tspan x="694" y="701">37</tspan></text></g>
<g id="p014-4"><use href="#F" x="726" y="656"/><text class="g" x="726" y="682">74<tspan x="726" y="701">36</tspan></text></g>
<g id="p014-5"><use href="#F" x="758" y="656"/><text class="g" x="758" y="682">74<tspan x="758" y="701">37</tspan></text></g>
<g id="p014-6"><use href="#f" x="789" y="656"/><text class="g" x="789" y="682">74<tspan x="789" y="701">36</tspan></text></g>
</g>

<g id="family-019">
<text class="t" x="873" y="541">family 019</text>
<g id="p019-1"><use href="#f" x="961" y="558"/><text class="g" x="964" y="589">24<tspan x="964" y="606">63</tspan></text></g>
<g id="p019-2"><use href="#md" x="1025" y="558"/></g>
<g id="p019-3"><use href="#md" x="908" y="632"/></g>
<g id="p019-4"><use href="#f" x="949" y="632"/><text class="g" x="950" y="654">54<tspan x="950" y="672">33</tspan></text></g>
<g id="p019-5"><use href="#f" x="981" y="632"/><text class="g" x="983" y="654">77<tspan x="983" y="672">33</tspan></text></g>
<g id="p019-6"><use href="#m" x="1026" y="632"/><text class="g" x="1026" y="654">44<tspan x="1026" y="672">37</tspan></text></g>
<g id="p019-7"><use href="#f" x="909" y="701"/><text class="g" x="909" y="728">25<tspan x="909" y="746">33</tspan></text></g>
<g id="p019-8"><use href="#M" x="951" y="701"/><text class="g" x="952" y="728">45<tspan x="952" y="746">33</tspan></text></g>
<g id="p019-9"><use href="#f" x="983" y="701"/><text class="g" x="983" y="728">74<tspan x="983" y="746">33</tspan></text></g>
<g id="p019-10"><use href="#M" x="1026" y="701"/><text class="g" x="1026" y="728">74<tspan x="1026" y="746">33</tspan></text></g>
</g>

<g id="family-027">
<text class="t" x="628" y="831">family 027</text>
<g id="p027-1"><use href="#f" x="682" y="846"/><text class="g" x="682" y="868">66<tspan x="682" y="884">77</tspan></text></g>
<g id="p027-2"><use href="#md" x="744" y="846"/></g>
<g id="p027-3"><use href="#F" x="712" y="880"/><text class="g" x="712" y="905">16<tspan x="712" y="922">37</tspan></text></g>
<g id="p027-4"><use href="#m" x="777" y="880"/><text class="g" x="777" y="903">54<tspan x="777" y="920">35</tspan></text></g>
<g id="p027-5"><use href="#md" x="667" y="950"/></g>
<g id="p027-6"><use href="#F" x="707" y="950"/><text class="g" x="707" y="972">64<tspan x="707" y="989">75</tspan></text></g>
<g id="p027-7"><use href="#f" x="740" y="950"/><text class="g" x="740" y="972">32<tspan x="740" y="989">78</tspan></text></g>
<g id="p027-8"><use href="#M" x="793" y="950"/><text class="g" x="793" y="972">64<tspan x="793" y="989">75</tspan></text></g>
<g id="p027-9"><use href="#m" x="687" y="1020"/><text class="g" x="687" y="1048">26<tspan x="687" y="1065">67</tspan></text></g>
<g id="p027-10"><use href="#m" x="749" y="1020"/><text class="g" x="749" y="1045">42<tspan x="749" y="1063">58</tspan></text></g>
<g id="p027-11"><use href="#F" x="783" y="1020"/><text class="g" x="783" y="1045">34<tspan x="783" y="1063">75</tspan></text></g>
</g>

<g id="family-023">
<text class="t" x="849" y="865">family 023</text>
<g id="p023-1"><use href="#fd" x="933" y="885"/></g>
<g id="p023-2"><use href="#md" x="974" y="885"/></g>
<g id="p023-3"><use href="#f" x="882" y="927"/><text class="g" x="881" y="948">77<tspan x="881" y="965">33</tspan></text></g>
<g id="p023-4"><use href="#md" x="941" y="927"/></g>
<g id="p023-5"><use href="#md" x="974" y="927"/></g>
<g id="p023-6"><use href="#f" x="1029" y="927"/><text class="g" x="1033" y="951">63<tspan x="1033" y="969">77</tspan></text></g>
<g id="p023-7"><use href="#F" x="912" y="969"/><text class="g" x="912" y="1001">73<tspan x="912" y="1019">38</tspan></text></g>
<g id="p023-8"><use href="#m" x="953" y="970"/><text class="g" x="953" y="999">74<tspan x="953" y="1015">37</tspan></text></g>
<g id="p023-9"><use href="#F" x="1005" y="969"/><text class="g" x="1005" y="993">66<tspan x="1005" y="1010">78</tspan></text></g>
<g id="p023-10"><use href="#M" x="982" y="1013"/><text class="g" x="982" y="1039">76<tspan x="982" y="1057">38</tspan></text></g>
</g>

<g id="family-028">
<text class="t" x="537" y="1106">family 028</text>
<g id="p028-1"><use href="#md" x="609" y="1127"/></g>
<g id="p028-2"><use href="#fd" x="668" y="1127"/></g>
<g id="p028-3"><use href="#f" x="562" y="1172"/><text class="g" x="559" y="1196">78<tspan x="559" y="1213">33</tspan></text></g>
<g id="p028-4"><use href="#md" x="620" y="1172"/></g>
<g id="p028-5"><use href="#md" x="652" y="1172"/></g>
<g id="p028-6"><use href="#fd" x="695" y="1172"/></g>
<g id="p028-7"><use href="#M" x="584" y="1223"/><text class="g" x="584" y="1249">73<tspan x="584" y="1266">36</tspan></text></g>
<g id="p028-8"><use href="#M" x="616" y="1223"/><text class="g" x="616" y="1249">83<tspan x="616" y="1266">33</tspan></text></g>
<g id="p028-9"><use href="#F" x="674" y="1223"/><text class="g" x="674" y="1242">33<tspan x="674" y="1259">66</tspan></text></g>
<g id="p028-10"><use href="#m" x="718" y="1223"/><text class="g" x="718" y="1242">83<tspan x="718" y="1259">36</tspan></text></g>
<g id="p028-11"><use href="#f" x="697" y="1270"/><text class="g" x="697" y="1296">38<tspan x="697" y="1313">63</tspan></text></g>
</g>

<g id="family-026">
<text class="t" x="752" y="1115">family 026</text>
<g id="p026-1"><use href="#md" x="789" y="1137"/></g>
<g id="p026-2"><use href="#fd" x="830" y="1137"/></g>
<g id="p026-3"><use href="#M" x="789" y="1182"/><text class="g" x="790" y="1211">23<tspan x="790" y="1228">36</tspan></text></g>
<g id="p026-4"><use href="#f" x="822" y="1182"/><text class="g" x="822" y="1211">53<tspan x="822" y="1228">66</tspan></text></g>
<g id="p026-5"><use href="#m" x="865" y="1182"/><text class="g" x="865" y="1211">52<tspan x="865" y="1228">36</tspan></text></g>
<g id="p026-6"><use href="#f" x="811" y="1253"/><text class="g" x="811" y="1282">52<tspan x="811" y="1299">66</tspan></text></g>
<g id="p026-7"><use href="#m" x="844" y="1253"/><text class="g" x="844" y="1282">52<tspan x="844" y="1299">66</tspan></text></g>
<g id="p026-8"><use href="#M" x="876" y="1253"/><text class="g" x="876" y="1282">55<tspan x="876" y="1299">63</tspan></text></g>
</g>

<g id="family-025">
<text class="t" x="909" y="1120">family 025</text>
<g id="p025-1"><use href="#md" x="935" y="1144"/></g>
<g id="p025-2"><use href="#fd" x="978" y="1144"/></g>
<g id="p025-3"><use href="#f" x="943" y="1187"/><text class="g" x="943" y="1213">38<tspan x="943" y="1230">63</tspan></text></g>
<g id="p025-4"><use href="#F" x="976" y="1187"/><text class="g" x="976" y="1213">35<tspan x="976" y="1230">63</tspan></text></g>
<g id="p025-5"><use href="#m" x="1039" y="1187"/><text class="g" x="1040" y="1215">77<tspan x="1040" y="1232">33</tspan></text></g>
<g id="p025-6"><use href="#m" x="977" y="1259"/><text class="g" x="977" y="1287">57<tspan x="977" y="1304">33</tspan></text></g>
<g id="p025-7"><use href="#M" x="1008" y="1259"/><text class="g" x="1008" y="1287">37<tspan x="1008" y="1304">63</tspan></text></g>
<g id="p025-8"><use href="#M" x="1039" y="1259"/><text class="g" x="1039" y="1287">57<tspan x="1039" y="1304">33</tspan></text></g>
</g>

<g id="family-005">
<text class="t" x="523" y="1365">famiily 005</text>
<g id="p005-1"><use href="#fd" x="613" y="1385"/></g>
<g id="p005-2"><use href="#md" x="667" y="1385"/></g>
<g id="p005-3"><use href="#m" x="570" y="1427"/><text class="g" x="570" y="1454">79<tspan x="570" y="1473">73</tspan></text></g>
<g id="p005-4"><use href="#fd" x="623" y="1427"/></g>
<g id="p005-5"><use href="#fd" x="656" y="1427"/></g>
<g id="p005-6"><use href="#m" x="705" y="1427"/><text class="g" x="706" y="1452">43<tspan x="706" y="1470">66</tspan></text></g>
<g id="p005-7"><use href="#f" x="542" y="1492"/><text class="g" x="542" y="1520">57<tspan x="542" y="1537">33</tspan></text></g>
<g id="p005-8"><use href="#M" x="603" y="1492"/><text class="g" x="604" y="1520">75<tspan x="604" y="1537">73</tspan></text></g>
<g id="p005-9"><use href="#m" x="659" y="1492"/><text class="g" x="659" y="1520">73<tspan x="659" y="1537">36</tspan></text></g>
<g id="p005-10"><use href="#F" x="690" y="1492"/><text class="g" x="692" y="1520">73<tspan x="692" y="1537">36</tspan></text></g>
<g id="p005-11"><use href="#m" x="744" y="1492"/><text class="g" x="744" y="1520">52<tspan x="744" y="1537">23</tspan></text></g>
<g id="p005-12"><use href="#M" x="552" y="1555"/><text class="g" x="552" y="1581">77<tspan x="552" y="1598">37</tspan></text></g>
<g id="p005-13"><use href="#F" x="593" y="1555"/><text class="g" x="593" y="1579">55<tspan x="593" y="1596">33</tspan></text></g>
<g id="p005-14"><use href="#f" x="690" y="1555"/><text class="g" x="690" y="1581">72<tspan x="690" y="1598">33</tspan></text></g>
<g id="p005-15"><use href="#f" x="733" y="1555"/><text class="g" x="733" y="1581">72<tspan x="733" y="1598">33</tspan></text></g>
</g>

<g id="family-020">
<text class="t" x="785" y="1361">family 020</text>
<g id="p020-1"><use href="#m" x="880" y="1377"/><text class="g" x="881" y="1404">46<tspan x="881" y="1422">36</tspan></text></g>
<g id="p020-2"><use href="#fd" x="942" y="1377"/></g>
<g id="p020-3"><use href="#m" x="815" y="1447"/><text class="g" x="812" y="1475">54<tspan x="812" y="1492">37</tspan></text></g>
<g id="p020-4"><use href="#f" x="857" y="1447"/><text class="g" x="859" y="1475">47<tspan x="859" y="1492">32</tspan></text></g>
<g id="p020-5"><use href="#f" x="890" y="1447"/><text class="g" x="892" y="1475">56<tspan x="892" y="1492">36</tspan></text></g>
<g id="p020-6"><use href="#md" x="933" y="1447"/></g>
<g id="p020-7"><use href="#md" x="965" y="1447"/></g>
<g id="p020-8"><use href="#f" x="1007" y="1447"/><text class="g" x="1007" y="1471">46<tspan x="1007" y="1489">63</tspan></text></g>
<g id="p020-9"><use href="#M" x="813" y="1516"/><text class="g" x="813" y="1545">57<tspan x="813" y="1563">32</tspan></text></g>
<g id="p020-10"><use href="#M" x="857" y="1516"/><text class="g" x="859" y="1545">44<tspan x="859" y="1563">73</tspan></text></g>
<g id="p020-11"><use href="#f" x="912" y="1516"/><text class="g" x="912" y="1545">64<tspan x="912" y="1563">66</tspan></text></g>
<g id="p020-12"><use href="#f" x="965" y="1516"/><text class="g" x="965" y="1545">54<tspan x="965" y="1563">36</tspan></text></g>
<g id="p020-13"><use href="#f" x="997" y="1516"/><text class="g" x="998" y="1545">56<tspan x="998" y="1563">33</tspan></text></g>
<g id="p020-14"><use href="#m" x="1053" y="1516"/><text class="g" x="1055" y="1545">46<tspan x="1055" y="1563">73</tspan></text></g>
<g id="p020-15"><use href="#F" x="1024" y="1555"/><text class="g" x="1024" y="1581">64<tspan x="1024" y="1598">37</tspan></text></g>
</g>
</g>
</svg>
